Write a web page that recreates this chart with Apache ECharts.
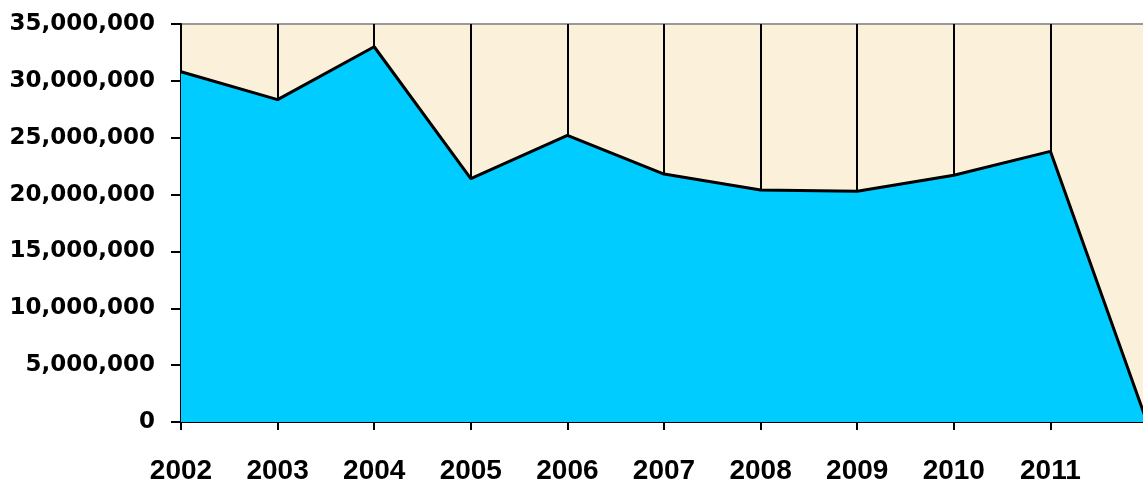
<!DOCTYPE html>
<html>
<head>
<meta charset="utf-8">
<script src="https://cdn.jsdelivr.net/npm/echarts@6/dist/echarts.min.js"></script>
<style>
html,body{margin:0;padding:0;background:#fff;overflow:hidden;width:1143px;height:485px;}
#chart{width:1150px;height:485px;}
</style>
</head>
<body>
<div id="chart"></div>
<script>
const categories = ['2002','2003','2004','2005','2006','2007','2008','2009','2010','2011','2012'];
const values = [30800000, 28350000, 33000000, 21400000, 25200000, 21800000, 20400000, 20300000, 21700000, 23800000, 0];
const yMin = 0, yMax = 35000000, yStep = 5000000;

const chart = echarts.init(document.getElementById('chart'), null, {renderer: 'canvas'});
chart.setOption({
  animation: false,
  grid: {
    left: 181, top: 24, bottom: 61, right: 1,
    show: true, backgroundColor: '#FBF0DA', borderColor: '#999999', borderWidth: 2
  },
  xAxis: {
    type: 'category', data: categories, boundaryGap: false,
    axisLine: {lineStyle: {color: '#000', width: 2}},
    axisTick: {show: true, length: 8, inside: false, lineStyle: {color: '#000', width: 2}},
    axisLabel: {color: '#000', fontFamily: 'Liberation Sans', fontWeight: 'bold', fontSize: 28, margin: 35,
      formatter: v => v === '2012' ? '' : v},
    splitLine: {show: true, lineStyle: {color: '#000', width: 2}}
  },
  yAxis: {
    type: 'value', min: yMin, max: yMax, interval: yStep,
    axisLine: {show: true, lineStyle: {color: '#000', width: 2}},
    axisTick: {show: true, length: 10, lineStyle: {color: '#000', width: 2}},
    axisLabel: {color: '#000', fontFamily: 'DejaVu Sans', fontWeight: 'bold', fontSize: 23, margin: 26,
      formatter: v => v.toLocaleString('en-US')},
    splitLine: {show: false}
  },
  series: [{
    type: 'line', data: values, symbol: 'none',
    lineStyle: {color: '#000', width: 3},
    areaStyle: {color: '#00CCFF', opacity: 1}
  }]
});
</script>
</body>
</html>
